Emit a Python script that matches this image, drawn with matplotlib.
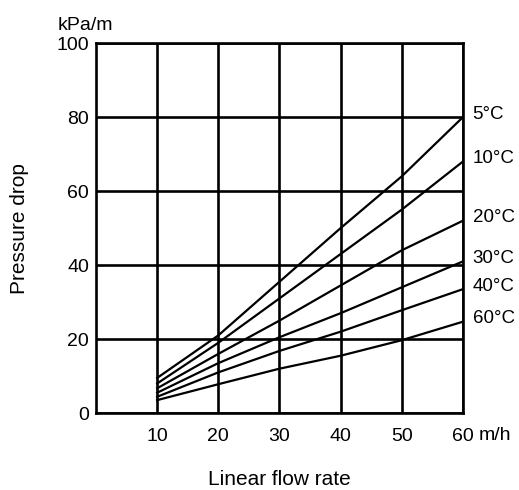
import matplotlib.pyplot as plt

plt.rcParams['font.family'] = ['Liberation Sans', 'DejaVu Sans']

# vazao linear (m/h) e perda de carga (kPa/m)
vazao = [10, 20, 30, 40, 50, 60]
temperaturas = ["5°C", "10°C", "20°C", "30°C", "40°C", "60°C"]
perda_5 = [9.5, 21, 35.5, 50, 64, 80]
perda_10 = [8, 19, 31, 43, 55, 68]
perda_20 = [6.7, 16, 25, 34.5, 44, 52]
perda_30 = [5.5, 13.5, 20.5, 27, 34, 41]
perda_40 = [4.4, 11, 16.8, 22, 27.8, 33.5]
perda_60 = [3.5, 7.8, 12, 15.5, 19.7, 24.7]
series = [perda_5, perda_10, perda_20, perda_30, perda_40, perda_60]

x_ticks = [10, 20, 30, 40, 50, 60]
y_ticks = [0, 20, 40, 60, 80, 100]

fig = plt.figure(figsize=(5.19, 4.9), dpi=100)
ax = fig.add_axes([0.185, 0.157, 0.707, 0.755])

for temp, valores in zip(temperaturas, series):
    ax.plot(vazao, valores, color="black", linewidth=1.6)
    ax.annotate(temp, xy=(vazao[-1], valores[-1]), xytext=(7, 2),
                textcoords="offset points", fontsize=13.5, va="center")

ax.set_xlim(0, 60)
ax.set_ylim(0, 100)
ax.set_xticks(x_ticks)
ax.set_yticks(y_ticks)
ax.tick_params(length=0, labelsize=14)
ax.tick_params(axis="x", pad=11)
ax.tick_params(axis="y", pad=5)
ax.grid(True, color="black", linewidth=1.9)
for s in ax.spines.values():
    s.set_linewidth(1.9)

ax.set_xlabel("Linear flow rate", fontsize=15, labelpad=18)
ax.set_ylabel("Pressure drop", fontsize=15, labelpad=20)

fig.text(58 / 519, 1 - 25 / 490, "kPa/m", fontsize=14, va="center")
fig.text(479 / 519, 1 - 435 / 490, "m/h", fontsize=14, va="center")

plt.savefig("out.png", dpi=100)
